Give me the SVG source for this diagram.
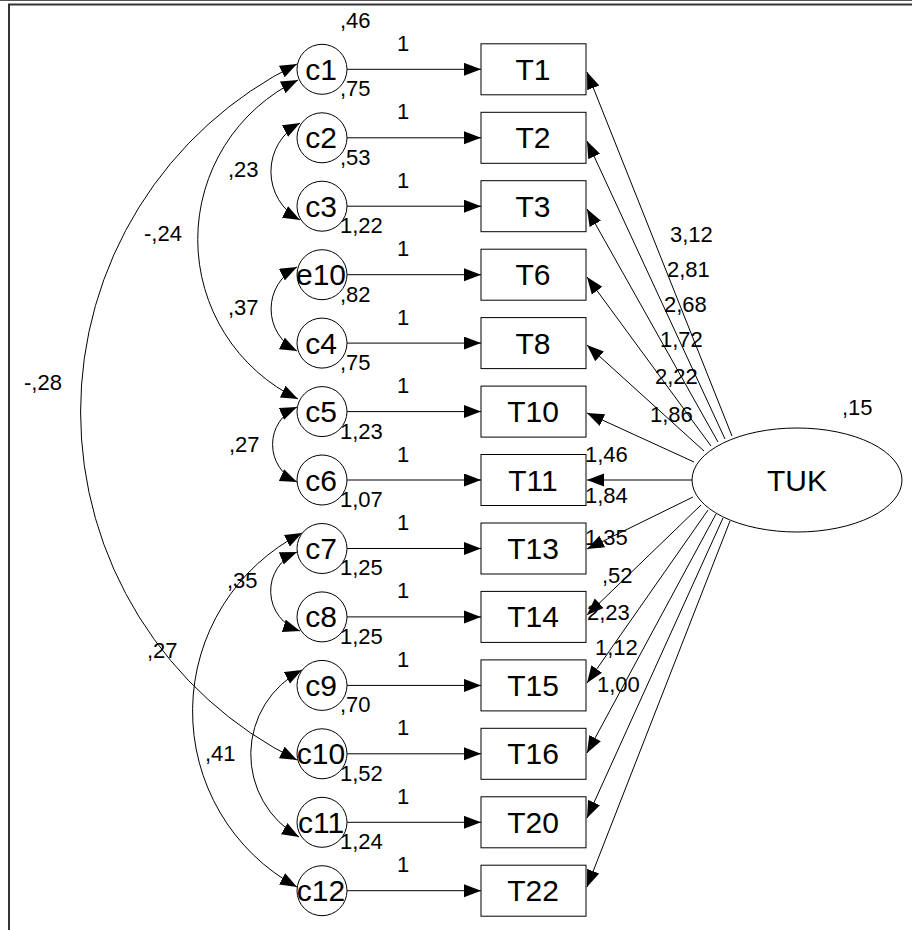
<svg xmlns="http://www.w3.org/2000/svg" width="912" height="930" viewBox="0 0 912 930">
<defs>
<marker id="ah" markerUnits="userSpaceOnUse" markerWidth="18" markerHeight="14" refX="17" refY="6.5" orient="auto-start-reverse"><path d="M0,0 L17,6.5 L0,13 z" fill="#000"/></marker>
<style>
.n{fill:#fff;stroke:#000;stroke-width:1}
.nt{font-family:"Liberation Sans",Arial,sans-serif;font-size:30px;text-anchor:middle;fill:#000}
.lb{font-family:"Liberation Sans",Arial,sans-serif;font-size:22px;fill:#000}
.c{fill:none;stroke:#000;stroke-width:1}
.a{fill:none;stroke:#000;stroke-width:1;marker-end:url(#ah)}
.b{fill:none;stroke:#000;stroke-width:1;marker-start:url(#ah);marker-end:url(#ah)}
</style>
</defs>
<rect width="912" height="930" fill="#fff"/>
<g id="frame">
<line x1="0" y1="0.5" x2="912" y2="0.5" stroke="#555" stroke-width="1"/>
<line x1="8" y1="4.5" x2="912" y2="4.5" stroke="#333" stroke-width="2"/>
<line x1="9" y1="4" x2="9" y2="930" stroke="#333" stroke-width="2"/>
</g>
<g id="connectors">
<path class="a" d="M347,69.3 H481"/>
<path class="a" d="M347,137.8 H481"/>
<path class="a" d="M347,206.2 H481"/>
<path class="a" d="M347,274.7 H481"/>
<path class="a" d="M347,343.1 H481"/>
<path class="a" d="M347,411.6 H481"/>
<path class="a" d="M347,480 H481"/>
<path class="a" d="M347,548.5 H481"/>
<path class="a" d="M347,616.9 H481"/>
<path class="a" d="M347,685.4 H481"/>
<path class="a" d="M347,753.8 H481"/>
<path class="a" d="M347,822.3 H481"/>
<path class="a" d="M347,890.7 H481"/>
<path class="a" d="M732,436 L587,72"/>
<path class="a" d="M725,439 L587,141"/>
<path class="a" d="M718,442 L587,209"/>
<path class="a" d="M711,446 L587,277"/>
<path class="a" d="M704,451 L587,345"/>
<path class="a" d="M694,462 L587,413"/>
<path class="a" d="M692,480 L587,480"/>
<path class="a" d="M693,497 L587,549"/>
<path class="a" d="M701,505 L587,615"/>
<path class="a" d="M708,510 L587,683"/>
<path class="a" d="M716,514 L587,753"/>
<path class="a" d="M723,518 L587,818"/>
<path class="a" d="M730,521 L587,887"/>
<path class="b" d="M300,123 A55,55 0 0,0 300,220"/>
<path class="b" d="M297,267 A47,47 0 0,0 297,351"/>
<path class="b" d="M297,407 A41,41 0 0,0 297,482"/>
<path class="b" d="M297,552 A42,42 0 0,0 300,631"/>
<path class="b" d="M302,670 A95,95 0 0,0 299,837"/>
<path class="b" d="M302,533 A200,200 0 0,0 297,887"/>
<path class="b" d="M298,80 A177,177 0 0,0 298,399"/>
<path class="b" d="M297,64 A388,388 0 0,0 297,760"/>
</g>
<g id="labels" class="lb">
<text x="228" y="177">,23</text>
<text x="144" y="241">-,24</text>
<text x="228" y="315">,37</text>
<text x="24" y="390">-,28</text>
<text x="229" y="452">,27</text>
<text x="227" y="588">,35</text>
<text x="147" y="658">,27</text>
<text x="205" y="761">,41</text>
<text x="670" y="242">3,12</text>
<text x="667" y="277">2,81</text>
<text x="664" y="312">2,68</text>
<text x="660" y="347">1,72</text>
<text x="655" y="384">2,22</text>
<text x="650" y="422">1,86</text>
<text x="585" y="462">1,46</text>
<text x="585" y="503">1,84</text>
<text x="585" y="545">1,35</text>
<text x="602" y="583">,52</text>
<text x="587" y="620">2,23</text>
<text x="595" y="655">1,12</text>
<text x="597" y="692">1,00</text>
<text x="842" y="415">,15</text>
<text x="340" y="27.8">,46</text>
<text x="340" y="96.3">,75</text>
<text x="340" y="164.7">,53</text>
<text x="340" y="233.2">1,22</text>
<text x="340" y="301.6">,82</text>
<text x="340" y="370.1">,75</text>
<text x="340" y="438.5">1,23</text>
<text x="340" y="507">1,07</text>
<text x="340" y="575.4">1,25</text>
<text x="340" y="643.9">1,25</text>
<text x="340" y="712.3">,70</text>
<text x="340" y="780.8">1,52</text>
<text x="340" y="849.2">1,24</text>
<text x="403" y="50.8" text-anchor="middle">1</text>
<text x="403" y="119.3" text-anchor="middle">1</text>
<text x="403" y="187.7" text-anchor="middle">1</text>
<text x="403" y="256.2" text-anchor="middle">1</text>
<text x="403" y="324.6" text-anchor="middle">1</text>
<text x="403" y="393.1" text-anchor="middle">1</text>
<text x="403" y="461.5" text-anchor="middle">1</text>
<text x="403" y="530" text-anchor="middle">1</text>
<text x="403" y="598.4" text-anchor="middle">1</text>
<text x="403" y="666.9" text-anchor="middle">1</text>
<text x="403" y="735.3" text-anchor="middle">1</text>
<text x="403" y="803.8" text-anchor="middle">1</text>
<text x="403" y="872.2" text-anchor="middle">1</text>
</g>
<g id="c1"><circle class="n" cx="322" cy="69.3" r="25"/><text class="nt" x="321" y="79.8">c1</text></g>
<g id="c2"><circle class="n" cx="322" cy="137.8" r="25"/><text class="nt" x="321" y="148.3">c2</text></g>
<g id="c3"><circle class="n" cx="322" cy="206.2" r="25"/><text class="nt" x="321" y="216.7">c3</text></g>
<g id="e10"><circle class="n" cx="322" cy="274.7" r="25"/><text class="nt" x="321" y="285.2">e10</text></g>
<g id="c4"><circle class="n" cx="322" cy="343.1" r="25"/><text class="nt" x="321" y="353.6">c4</text></g>
<g id="c5"><circle class="n" cx="322" cy="411.6" r="25"/><text class="nt" x="321" y="422.1">c5</text></g>
<g id="c6"><circle class="n" cx="322" cy="480" r="25"/><text class="nt" x="321" y="490.5">c6</text></g>
<g id="c7"><circle class="n" cx="322" cy="548.5" r="25"/><text class="nt" x="321" y="559">c7</text></g>
<g id="c8"><circle class="n" cx="322" cy="616.9" r="25"/><text class="nt" x="321" y="627.4">c8</text></g>
<g id="c9"><circle class="n" cx="322" cy="685.4" r="25"/><text class="nt" x="321" y="695.9">c9</text></g>
<g id="c10"><circle class="n" cx="322" cy="753.8" r="25"/><text class="nt" x="321" y="764.3">c10</text></g>
<g id="c11"><circle class="n" cx="322" cy="822.3" r="25"/><text class="nt" x="321" y="832.8">c11</text></g>
<g id="c12"><circle class="n" cx="322" cy="890.7" r="25"/><text class="nt" x="321" y="901.2">c12</text></g>
<g id="T1"><rect class="n" x="481" y="43.8" width="105" height="51"/><text class="nt" x="533" y="79.8">T1</text></g>
<g id="T2"><rect class="n" x="481" y="112.3" width="105" height="51"/><text class="nt" x="533" y="148.3">T2</text></g>
<g id="T3"><rect class="n" x="481" y="180.7" width="105" height="51"/><text class="nt" x="533" y="216.7">T3</text></g>
<g id="T6"><rect class="n" x="481" y="249.2" width="105" height="51"/><text class="nt" x="533" y="285.2">T6</text></g>
<g id="T8"><rect class="n" x="481" y="317.6" width="105" height="51"/><text class="nt" x="533" y="353.6">T8</text></g>
<g id="T10"><rect class="n" x="481" y="386.1" width="105" height="51"/><text class="nt" x="533" y="422.1">T10</text></g>
<g id="T11"><rect class="n" x="481" y="454.5" width="105" height="51"/><text class="nt" x="533" y="490.5">T11</text></g>
<g id="T13"><rect class="n" x="481" y="523" width="105" height="51"/><text class="nt" x="533" y="559">T13</text></g>
<g id="T14"><rect class="n" x="481" y="591.4" width="105" height="51"/><text class="nt" x="533" y="627.4">T14</text></g>
<g id="T15"><rect class="n" x="481" y="659.9" width="105" height="51"/><text class="nt" x="533" y="695.9">T15</text></g>
<g id="T16"><rect class="n" x="481" y="728.3" width="105" height="51"/><text class="nt" x="533" y="764.3">T16</text></g>
<g id="T20"><rect class="n" x="481" y="796.8" width="105" height="51"/><text class="nt" x="533" y="832.8">T20</text></g>
<g id="T22"><rect class="n" x="481" y="865.2" width="105" height="51"/><text class="nt" x="533" y="901.2">T22</text></g>
<g id="TUK"><ellipse class="n" cx="797" cy="480" rx="105" ry="52"/><text class="nt" x="797" y="491">TUK</text></g>
</svg>
